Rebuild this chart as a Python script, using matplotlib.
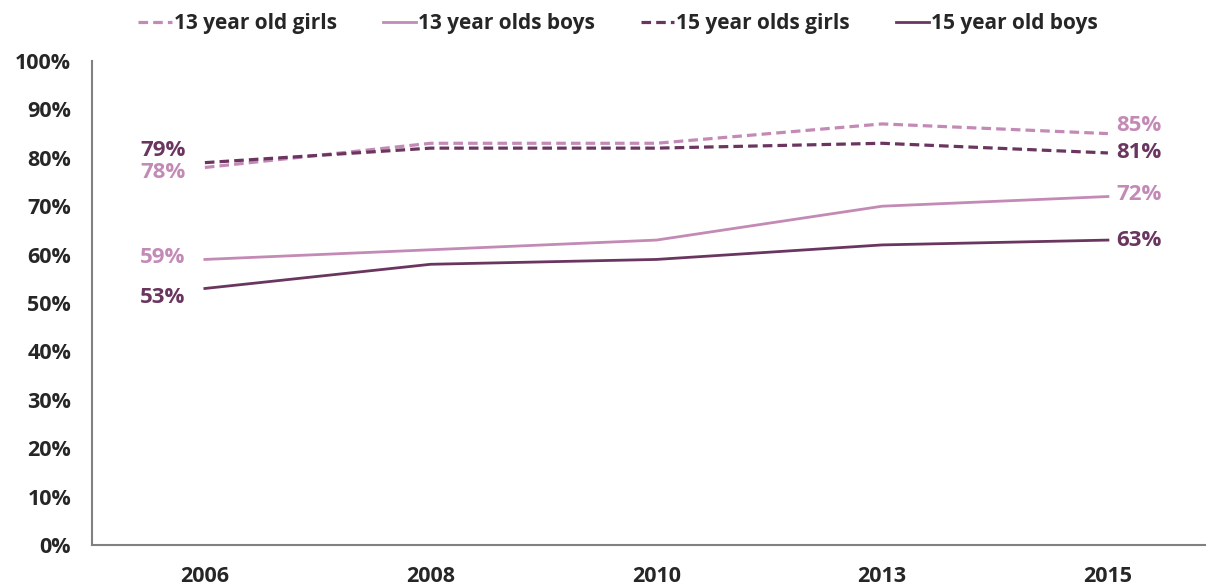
import matplotlib
matplotlib.use("Agg")
import matplotlib.pyplot as plt

years = ["2006", "2008", "2010", "2013", "2015"]
girls13 = [78, 83, 83, 87, 85]
boys13 = [59, 61, 63, 70, 72]
girls15 = [79, 82, 82, 83, 81]
boys15 = [53, 58, 59, 62, 63]
yticks = [0, 10, 20, 30, 40, 50, 60, 70, 80, 90, 100]

light = "#C48AB6"
dark = "#6A3660"
txt = "#262626"

plt.rcParams['font.family'] = ['Open Sans', 'DejaVu Sans']
plt.rcParams['font.weight'] = 'bold'

fig = plt.figure(figsize=(12.07, 5.87), dpi=100)
ax = fig.add_axes([92/1207, 1-545/587, (1205-92)/1207, (545-61)/587])

x = list(range(len(years)))
ax.plot(x, girls13, color=light, lw=2.3, dashes=(3, 1.6), label="13 year old girls")
ax.plot(x, boys13, color=light, lw=2.0, label="13 year olds boys")
ax.plot(x, girls15, color=dark, lw=2.3, dashes=(3, 1.6), label="15 year olds girls")
ax.plot(x, boys15, color=dark, lw=2.0, label="15 year old boys")

ax.set_xlim(-0.5, 4.43)
ax.set_ylim(0, 100)
ax.set_xticks(x)
ax.set_xticklabels(years)
ax.set_yticks(yticks)
ax.set_yticklabels([f"{v}%" for v in yticks])
ax.tick_params(length=0, labelsize=15.5, colors=txt)
ax.tick_params(axis='y', pad=15)
ax.tick_params(axis='x', pad=15)
for lab in ax.get_xticklabels() + ax.get_yticklabels():
    lab.set_fontweight('bold')
for s in ['top', 'right']:
    ax.spines[s].set_visible(False)
for s in ['left', 'bottom']:
    ax.spines[s].set_color('#808080')
    ax.spines[s].set_linewidth(1.5)

def lab(xi, val, col, dy, ha):
    dx = -14 if ha == 'right' else 6
    ax.annotate(f"{val}%", (xi, val), xytext=(dx, dy), textcoords='offset points',
                ha=ha, va='center', color=col, fontsize=16, fontweight='bold')

lab(0, girls15[0], dark, 8.5, 'right')
lab(0, girls13[0], light, -3.5, 'right')
lab(0, boys13[0], light, 1.5, 'right')
lab(0, boys15[0], dark, -6.5, 'right')
lab(4, girls13[-1], light, 5.5, 'left')
lab(4, girls15[-1], dark, 0.5, 'left')
lab(4, boys13[-1], light, 1.5, 'left')
lab(4, boys15[-1], dark, 0, 'left')

fig.legend(loc='upper center', bbox_to_anchor=(0.512, 1.01), ncol=4, frameon=False,
           handlelength=1.6, handletextpad=0.1, columnspacing=2.2,
           prop={'size': 15, 'weight': 'bold'}, labelcolor=txt)

fig.savefig("out.png", dpi=100, facecolor='white')
